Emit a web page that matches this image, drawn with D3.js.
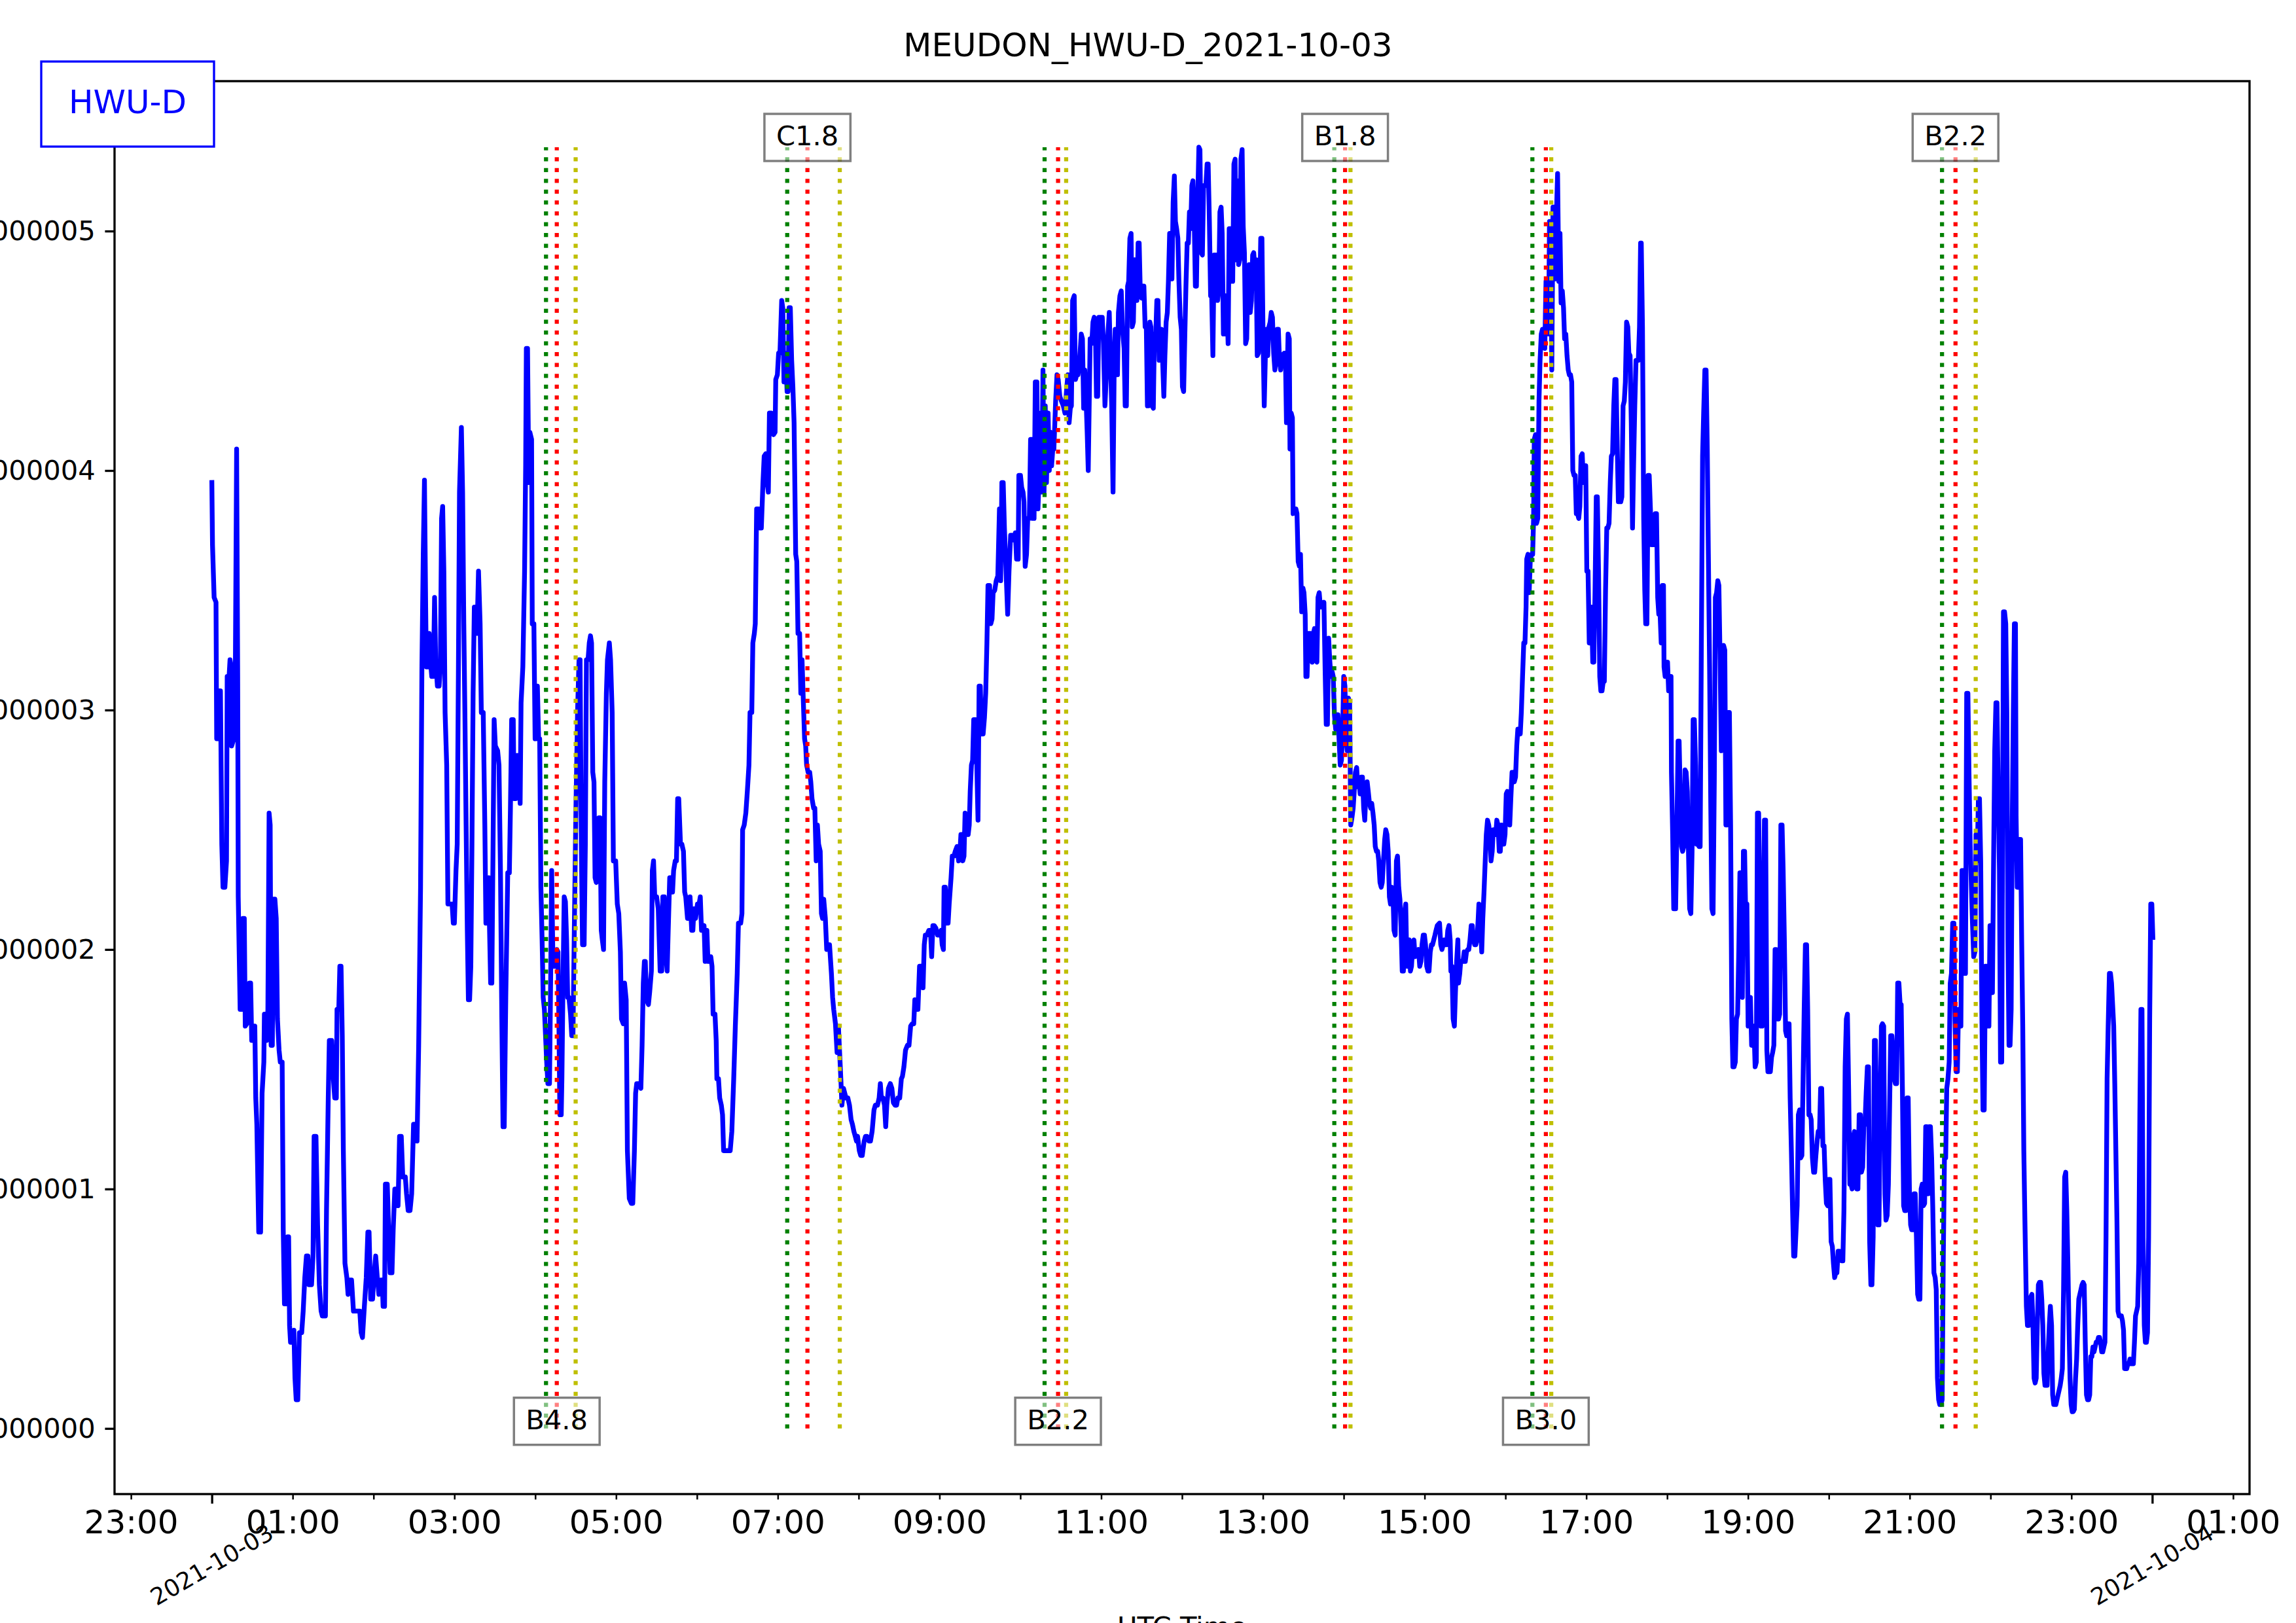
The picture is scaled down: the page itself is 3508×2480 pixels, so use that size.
<!DOCTYPE html>
<html><head><meta charset="utf-8">
<script src="https://cdn.jsdelivr.net/npm/d3@7"></script>
<style>
body{margin:0;background:#fff}
svg{display:block;font-family:"DejaVu Sans",sans-serif}
</style>
</head><body>
<svg id="c" width="3508" height="2480"></svg>
<script>
// ---------------- data ----------------
const chartTitle = "MEUDON_HWU-D_2021-10-03";
const legendLabel = "HWU-D";
const xAxisLabel = "UTC Time";
const dayStart = Date.UTC(2021, 9, 3);          // 2021-10-03 00:00 UTC
const xDomain = ["2021-10-02T22:47:48Z", "2021-10-04T01:12:12Z"];
const yDomain = [-0.274, 5.626];                // flux, 1e-6 W/m^2
const yTickValues = [0, 1, 2, 3, 4, 5];
const dateTickLabels = ["2021-10-03", "2021-10-04"];

const flareClass = ["B4.8", "C1.8", "B2.2", "B1.8", "B3.0", "B2.2"];
const flareStart = ["04:08", "07:07", "10:18", "13:53", "16:20", "21:24"];
const flarePeak  = ["04:16", "07:22", "10:28", "14:01", "16:30", "21:34"];
const flareEnd   = ["04:30", "07:46", "10:34", "14:05", "16:34", "21:49"];
const flareLabelSide = ["bottom", "top", "bottom", "top", "bottom", "top"];

// [minutes since 00:00 UTC, flux in 1e-6 W/m^2]
const fluxSeries = [
[0,3.96],[0.5,3.69],[1.7,3.47],[3.1,3.45],[3.6,2.88],[4.5,2.88],[5.0,3.08],[6.4,3.08],[7.4,2.44],[8.3,2.26],[9.7,2.26],[10.9,2.37],[11.4,3.14],[12.6,3.12],[13.5,3.21],[14.7,2.85],[15.8,2.87],[16.6,3.18],[17.5,3.21],[18.4,4.09],[19.2,3.14],[19.6,2.22],[21.0,1.75],[22.3,1.75],[23.0,2.13],[24.1,2.13],[24.8,1.68],[26.0,1.69],[26.9,1.75],[27.9,1.86],[28.8,1.86],[29.6,1.62],[30.8,1.68],[31.9,1.68],[32.6,1.38],[33.4,1.27],[34.8,0.82],[36.2,0.82],[37.3,1.40],[38.6,1.53],[39.0,1.73],[39.9,1.73],[40.7,1.62],[41.6,1.75],[42.5,2.57],[43.3,2.52],[44.0,1.60],[44.9,1.60],[45.9,2.21],[46.8,2.21],[47.8,2.13],[48.7,1.71],[49.9,1.58],[50.8,1.53],[52.2,1.53],[53.0,0.83],[53.9,0.52],[55.1,0.52],[56.2,0.80],[57.0,0.80],[57.7,0.43],[58.4,0.36],[59.6,0.36],[60.9,0.41],[61.7,0.21],[62.6,0.12],[63.8,0.12],[65.0,0.40],[66.7,0.40],[67.8,0.49],[69.0,0.63],[70.2,0.72],[71.3,0.72],[72.1,0.60],[74.0,0.60],[75.1,0.72],[75.9,1.22],[77.3,1.22],[78.5,0.85],[79.8,0.60],[81.1,0.49],[82.0,0.47],[84.3,0.47],[85.1,0.91],[86.4,1.38],[87.2,1.62],[89.0,1.62],[90.2,1.46],[91.2,1.38],[92.4,1.38],[92.9,1.75],[94.2,1.75],[95.0,1.93],[95.9,1.93],[96.8,1.64],[97.6,1.16],[98.8,0.69],[100.2,0.63],[101.1,0.56],[102.5,0.62],[103.7,0.62],[105.1,0.49],[106.3,0.49],[108.0,0.49],[109.8,0.49],[110.8,0.40],[111.8,0.38],[113.2,0.51],[114.6,0.63],[115.8,0.82],[116.7,0.82],[117.9,0.54],[119.3,0.54],[120.5,0.65],[121.6,0.72],[122.8,0.63],[124.0,0.56],[125.4,0.62],[126.4,0.62],[127.1,0.51],[128.2,0.51],[128.8,1.02],[130.2,1.02],[131.4,0.80],[132.3,0.65],[133.7,0.65],[134.6,0.83],[135.8,1.00],[137.2,1.00],[138.2,0.93],[139.3,1.22],[140.6,1.22],[141.7,1.05],[143.6,1.05],[144.5,0.98],[145.7,0.91],[147.1,0.91],[148.3,0.98],[149.7,1.27],[151.1,1.27],[152.3,1.20],[153.5,1.60],[154.9,2.26],[155.9,3.18],[156.9,3.65],[157.8,3.96],[158.7,3.43],[159.2,3.18],[160.4,3.18],[161.3,3.32],[162.2,3.21],[163.2,3.14],[164.4,3.14],[165.3,3.47],[166.1,3.21],[167.4,3.10],[168.7,3.10],[169.6,3.18],[170.5,3.80],[171.3,3.85],[172.2,3.58],[173.1,2.99],[174.3,2.77],[175.2,2.19],[176.5,2.19],[178.3,2.19],[179.2,2.11],[180.0,2.11],[181.2,2.33],[182.1,2.44],[183.0,3.18],[183.8,3.91],[185.2,4.18],[186.1,3.91],[187.0,3.36],[187.8,2.99],[188.7,2.52],[189.6,2.08],[190.4,1.79],[191.3,1.79],[192.2,1.93],[193.0,2.41],[193.9,3.07],[194.8,3.43],[196.0,3.43],[196.8,3.32],[197.9,3.58],[199.1,3.36],[200.0,2.99],[201.4,2.99],[202.6,2.52],[203.4,2.11],[204.5,2.11],[205.5,2.30],[206.0,2.11],[206.9,1.86],[207.8,1.86],[208.6,2.37],[209.5,2.96],[210.4,2.85],[212.1,2.83],[213.1,2.77],[214.2,2.33],[215.2,1.71],[216.1,1.26],[217.0,1.26],[218.2,1.82],[219.6,2.32],[220.8,2.32],[221.6,2.59],[222.5,2.96],[223.7,2.96],[224.3,2.63],[225.5,2.63],[226.3,2.81],[227.7,2.81],[228.8,2.61],[229.5,3.03],[230.8,3.18],[232.1,3.58],[232.9,4.02],[233.4,4.51],[234.3,4.51],[235.2,3.95],[236.0,4.16],[237.3,4.13],[237.8,3.36],[239.0,3.36],[239.9,2.88],[240.7,2.88],[241.6,3.10],[242.5,2.88],[243.3,2.88],[244.2,2.26],[245.1,2.04],[245.9,1.80],[246.8,1.75],[248.5,1.53],[249.4,1.44],[250.6,1.44],[251.5,1.90],[252.2,2.33],[253.2,1.93],[254.6,1.93],[256.0,2.00],[256.9,1.99],[257.6,1.68],[258.3,1.31],[259.3,1.31],
[259.8,1.46],[260.7,1.90],[261.5,2.22],[262.4,2.20],[263.3,2.04],[264.1,1.80],[265.0,1.80],[266.2,1.73],[267.1,1.64],[268.0,1.64],[269.0,2.08],[270.2,2.59],[271.4,2.99],[272.5,3.21],[273.3,3.21],[274.2,2.44],[275.1,2.02],[276.3,2.02],[277.2,2.44],[278.0,3.21],[279.2,3.21],[280.1,3.28],[281.0,3.31],[281.8,3.28],[282.7,2.74],[283.6,2.70],[284.4,2.30],[285.3,2.28],[286.2,2.41],[287.2,2.55],[288.1,2.55],[289.0,2.08],[289.8,2.04],[290.7,2.00],[291.6,2.70],[292.8,3.07],[293.6,3.21],[295.0,3.28],[295.9,3.21],[297.1,2.99],[298.0,2.37],[299.7,2.37],[300.9,2.19],[302.0,2.15],[303.2,1.99],[304.0,1.71],[305.3,1.69],[306.3,1.86],[307.5,1.79],[308.4,1.16],[309.8,0.96],[311.3,0.94],[312.4,0.94],[313.6,1.16],[314.5,1.40],[315.3,1.44],[317.1,1.44],[318.4,1.42],[319.3,1.60],[320.2,1.86],[321.0,1.95],[321.7,1.95],[322.6,1.79],[324.0,1.77],[324.9,1.82],[326.2,1.91],[326.9,2.33],[327.8,2.37],[328.7,2.22],[330.1,2.22],[331.3,2.17],[332.7,1.91],[333.9,1.91],[334.7,2.22],[335.8,2.22],[336.7,1.99],[337.9,1.91],[338.7,2.08],[339.8,2.30],[341.0,2.30],[341.9,2.24],[342.7,2.33],[343.9,2.37],[344.8,2.37],[345.7,2.63],[346.5,2.63],[347.8,2.44],[348.8,2.44],[350.0,2.41],[350.9,2.24],[351.7,2.22],[353.0,2.13],[354.0,2.13],[354.9,2.22],[356.1,2.08],[357.0,2.08],[357.8,2.17],[359.0,2.13],[360.4,2.19],[361.6,2.19],[362.5,2.22],[363.4,2.08],[364.4,2.08],[365.3,2.10],[366.1,1.95],[367.4,2.08],[368.2,1.95],[369.4,1.95],[370.3,1.97],[371.2,1.93],[372.0,1.73],[373.4,1.73],[374.3,1.62],[374.8,1.46],[376.0,1.46],[376.9,1.38],[378.1,1.35],[379.0,1.31],[379.8,1.16],[382.1,1.16],[384.7,1.16],[385.9,1.24],[387.3,1.46],[388.5,1.68],[389.9,1.90],[390.8,2.11],[392.5,2.11],[393.4,2.15],[393.9,2.50],[395.1,2.52],[396.3,2.57],[397.4,2.66],[398.6,2.77],[399.4,2.99],[400.7,2.99],[401.5,3.28],[402.6,3.32],[403.3,3.36],[404.3,3.84],[405.7,3.84],[406.7,3.76],[407.8,3.76],[409.0,3.95],[409.9,4.06],[411.1,4.07],[412.1,3.95],[413.0,3.91],[413.8,4.24],[415.1,4.24],[415.9,4.16],[416.8,4.15],[418.0,4.16],[418.5,4.38],[419.7,4.40],[420.6,4.49],[421.6,4.49],[422.9,4.71],[423.7,4.68],[424.6,4.37],[425.8,4.49],[426.9,4.33],[427.7,4.33],[428.4,4.68],[429.3,4.68],[430.3,4.46],[431.2,4.35],[432.1,4.20],[433.3,3.65],[434.1,3.62],[435.0,3.32],[436.2,3.32],[437.1,3.07],[438.0,3.21],[439.0,3.03],[439.9,2.88],[440.7,2.85],[441.4,2.77],[442.5,2.74],[443.7,2.74],[444.5,2.70],[445.4,2.63],[446.6,2.59],[447.5,2.59],[448.5,2.37],[449.4,2.52],[450.3,2.44],[451.5,2.41],[452.4,2.15],[453.2,2.13],[454.1,2.21],[455.3,2.13],[456.3,2.00],[457.2,2.02],[458.4,2.02],[459.8,1.90],[460.7,1.80],[461.5,1.75],[462.8,1.69],[464.0,1.57],[465.0,1.68],[465.9,1.57],[466.8,1.46],[467.6,1.35],[468.8,1.42],[470.6,1.38],[472.0,1.38],[473.2,1.35],[474.4,1.29],[475.4,1.27],[476.5,1.24],[477.5,1.22],[478.4,1.20],[479.2,1.22],[480.5,1.16],[481.5,1.14],[482.7,1.14],[484.1,1.20],[485.1,1.22],[486.2,1.22],[487.6,1.20],[488.8,1.20],[490.0,1.24],[491.4,1.33],[492.4,1.35],[494.0,1.35],[495.2,1.38],[496.1,1.44],[496.9,1.38],[498.0,1.38],[499.2,1.35],[500.1,1.26],[500.9,1.35],[502.1,1.42],[503.5,1.44],[504.7,1.42],[505.8,1.36],[507.0,1.35],[508.2,1.35],[509.1,1.38],[510.5,1.38],[511.7,1.46],[512.5,1.47],[513.6,1.51],[514.8,1.58],[516.2,1.60],[517.4,1.60],[518.6,1.68],[519.7,1.69],[520.9,1.69],[521.7,1.79],[523.0,1.75],[524.0,1.75],[525.2,1.93],[526.4,1.93],
[527.8,1.84],[528.7,2.02],[529.5,2.06],[530.7,2.06],[532.1,2.08],[533.3,2.08],[534.2,1.97],[535.1,2.10],[536.1,2.10],[537.3,2.09],[538.6,2.06],[539.9,2.06],[541.2,2.08],[542.0,2.02],[542.9,2.00],[543.4,2.26],[544.3,2.26],[545.5,2.11],[546.4,2.11],[547.2,2.19],[548.6,2.30],[549.5,2.39],[550.7,2.39],[551.7,2.41],[553.0,2.43],[554.2,2.37],[555.0,2.39],[555.9,2.48],[556.8,2.48],[557.3,2.37],[558.2,2.39],[559.0,2.57],[560.4,2.55],[561.3,2.48],[562.1,2.52],[562.8,2.66],[563.7,2.77],[564.6,2.79],[565.4,2.96],[566.8,2.96],[567.7,2.77],[568.6,2.54],[569.4,3.10],[570.3,3.10],[571.2,2.90],[572.4,2.90],[573.4,2.97],[574.3,3.07],[575.2,3.28],[576.0,3.52],[577.2,3.52],[578.1,3.36],[579.0,3.38],[579.8,3.49],[581.0,3.50],[582.1,3.54],[583.3,3.56],[584.5,3.84],[585.4,3.54],[586.3,3.95],[587.3,3.95],[588.2,3.76],[589.4,3.58],[590.6,3.40],[591.6,3.58],[592.8,3.73],[594.1,3.73],[595.1,3.71],[596.3,3.74],[597.2,3.63],[598.4,3.63],[598.9,3.98],[600.1,3.98],[601.0,3.93],[602.0,3.91],[602.7,3.87],[603.6,3.60],[604.6,3.65],[605.5,3.80],[606.7,3.80],[607.6,4.13],[608.5,4.13],[609.3,3.80],[610.2,3.80],[611.1,4.37],[612.3,4.37],[613.1,3.84],[614.0,3.98],[615.0,4.24],[615.9,3.91],[616.8,4.42],[617.6,3.91],[618.5,4.27],[619.4,3.95],[620.6,4.24],[621.5,4.00],[622.3,4.16],[623.2,4.02],[624.1,4.09],[624.9,4.09],[626.2,4.29],[627.2,4.40],[628.1,4.38],[629.3,4.31],[630.5,4.29],[631.9,4.27],[633.1,4.24],[634.5,4.35],[635.3,4.40],[636.2,4.20],[637.1,4.26],[637.9,4.27],[638.8,4.71],[640.0,4.73],[640.9,4.38],[641.9,4.40],[642.8,4.40],[644.0,4.46],[645.2,4.57],[646.1,4.55],[647.0,4.26],[647.8,4.42],[648.7,4.31],[649.6,4.16],[650.4,4.00],[651.3,4.35],[651.8,4.55],[653.0,4.53],[653.9,4.62],[654.8,4.64],[655.8,4.55],[656.5,4.31],[657.4,4.31],[658.2,4.64],[659.6,4.64],[660.8,4.64],[661.7,4.53],[662.8,4.27],[664.0,4.42],[664.8,4.55],[666.0,4.66],[666.9,4.46],[667.8,4.27],[668.8,3.91],[669.7,4.46],[670.4,4.59],[671.3,4.57],[672.1,4.40],[672.8,4.66],[673.9,4.73],[674.9,4.75],[675.8,4.59],[677.0,4.51],[677.8,4.27],[678.7,4.27],[679.6,4.77],[680.4,4.79],[681.3,4.97],[682.2,4.99],[683.0,4.60],[683.9,4.62],[684.8,4.88],[685.6,4.82],[686.5,4.71],[687.4,4.95],[688.2,4.95],[689.1,4.73],[690.0,4.72],[690.9,4.77],[691.7,4.77],[692.6,4.60],[693.5,4.60],[694.3,4.27],[695.2,4.27],[696.1,4.62],[696.9,4.60],[697.8,4.27],[698.7,4.26],[699.5,4.57],[700.4,4.55],[701.3,4.71],[702.1,4.71],[703.0,4.46],[703.9,4.59],[704.7,4.59],[705.6,4.46],[706.5,4.31],[707.3,4.48],[708.2,4.62],[709.1,4.66],[709.9,4.79],[710.8,4.99],[711.7,4.99],[712.5,4.80],[713.4,5.12],[714.3,5.23],[715.1,5.04],[716.0,5.01],[716.9,4.97],[717.7,4.79],[718.6,4.64],[719.5,4.59],[720.3,4.35],[721.2,4.33],[722.1,4.57],[722.9,4.77],[723.8,4.95],[724.7,4.95],[725.5,5.08],[726.4,5.01],[727.3,5.19],[728.1,5.21],[729.0,5.06],[729.9,4.77],[730.7,4.77],[731.6,5.12],[732.5,5.35],[733.3,5.34],[734.2,4.91],[735.1,4.90],[736.0,5.19],[736.8,5.19],[737.7,5.19],[738.6,5.28],[739.4,5.28],[740.3,5.04],[741.2,4.73],[742.0,4.73],[742.9,4.48],[743.8,4.90],[744.6,4.86],[745.5,4.90],[746.4,4.71],[747.2,4.75],[748.1,5.08],[749.0,5.10],[749.8,4.99],[750.7,4.57],[751.6,4.57],[752.4,4.73],[753.3,4.71],[754.2,4.53],[755.0,5.01],[755.9,5.01],[756.8,4.79],[757.6,4.79],[758.5,5.28],[759.4,5.30],[760.2,4.88],[761.1,5.21],[762.0,4.86],[762.8,4.88],[763.7,5.30],[764.6,5.34],[765.4,5.02],[766.3,4.91],[767.2,4.53],[768.0,4.55],[768.9,4.82],[769.8,4.86],[770.6,4.66],[771.5,4.71],[772.4,4.90],[773.2,4.91],[774.1,4.84],[775.0,4.88],[775.8,4.48],[776.7,4.49],[777.6,4.71],[778.4,4.97],[779.3,4.97],[780.2,4.53],[781.0,4.27],[781.9,4.49],[782.8,4.59],[783.6,4.48],[784.5,4.60],[785.4,4.62],[786.2,4.66],[787.1,4.64],[788.0,4.49],[788.9,4.42],[789.7,4.46],[790.6,4.59],[791.5,4.59],[792.3,4.46],[793.2,4.42],
[794.1,4.48],[795.8,4.49],[796.7,4.49],[797.5,4.20],[798.4,4.49],[798.7,4.57],[799.6,4.55],[800.1,4.09],[801.0,4.24],[801.9,4.22],[802.4,3.82],[803.6,3.84],[804.5,3.84],[805.3,3.82],[806.2,3.62],[807.1,3.60],[807.9,3.65],[808.8,3.41],[809.7,3.51],[810.5,3.49],[811.4,3.40],[811.9,3.14],[812.8,3.14],[813.7,3.32],[814.5,3.21],[815.4,3.32],[816.6,3.20],[817.5,3.32],[818.3,3.34],[819.2,3.21],[820.1,3.20],[820.9,3.47],[821.8,3.49],[822.7,3.43],[823.5,3.45],[824.4,3.43],[825.3,3.45],[826.2,3.16],[827.0,2.94],[827.9,2.94],[828.8,3.30],[829.6,3.21],[830.5,3.14],[831.4,3.16],[832.2,3.14],[833.1,2.98],[834.0,2.92],[834.8,2.98],[835.7,2.98],[836.6,2.87],[837.4,2.77],[838.3,2.79],[839.2,2.92],[840.0,3.14],[840.9,3.10],[841.8,2.87],[842.6,2.83],[843.5,3.05],[844.4,3.03],[845.2,2.52],[846.1,2.55],[847.0,2.59],[847.8,2.66],[848.7,2.74],[849.6,2.76],[850.4,2.68],[851.3,2.70],[852.2,2.65],[853.0,2.72],[853.9,2.72],[854.8,2.59],[855.6,2.54],[856.5,2.66],[857.4,2.70],[858.2,2.66],[859.1,2.61],[860.0,2.59],[860.8,2.61],[861.7,2.57],[862.6,2.52],[863.4,2.43],[864.3,2.41],[865.2,2.41],[866.0,2.37],[866.9,2.28],[867.8,2.26],[868.6,2.28],[869.5,2.37],[870.4,2.46],[871.2,2.50],[872.1,2.48],[873.0,2.41],[873.9,2.22],[874.7,2.19],[875.6,2.26],[876.5,2.24],[877.3,2.08],[878.2,2.06],[879.1,2.37],[879.9,2.39],[880.8,2.26],[881.7,2.21],[882.5,2.10],[883.4,1.91],[884.3,1.91],[885.1,2.02],[885.5,2.17],[886.0,2.19],[886.9,1.93],[887.7,2.04],[888.6,2.04],[889.5,1.91],[890.3,1.93],[891.2,2.02],[892.1,2.04],[892.9,1.97],[893.8,1.99],[894.7,1.99],[895.5,2.00],[896.4,1.93],[897.3,1.95],[898.1,2.02],[899.0,2.06],[899.9,2.06],[900.7,2.02],[901.6,1.93],[902.5,1.91],[903.3,1.91],[904.2,1.99],[905.1,2.02],[905.9,2.02],[906.8,2.04],[907.7,2.06],[908.5,2.08],[909.4,2.10],[911.1,2.11],[912.0,2.02],[912.9,2.00],[913.8,2.02],[914.6,2.04],[915.5,2.02],[916.4,2.02],[917.2,2.08],[918.1,2.10],[919.0,2.04],[919.5,1.91],[920.3,1.93],[921.2,1.71],[922.1,1.68],[922.9,1.82],[923.8,1.95],[924.7,2.04],[925.2,1.86],[926.1,1.90],[926.8,1.95],[927.6,1.95],[928.5,1.95],[929.4,1.99],[930.2,1.95],[931.1,1.99],[932.0,2.00],[932.8,2.00],[933.7,2.04],[934.6,2.10],[935.4,2.10],[936.3,2.04],[937.2,2.02],[938.0,2.02],[938.9,2.04],[939.8,2.13],[940.3,2.19],[941.0,2.17],[941.7,2.08],[942.4,1.99],[943.2,2.13],[944.1,2.24],[945.0,2.37],[945.8,2.48],[946.7,2.54],[947.6,2.52],[948.4,2.48],[949.3,2.37],[950.2,2.41],[951.0,2.50],[951.9,2.50],[952.8,2.48],[953.6,2.54],[954.5,2.52],[955.4,2.41],[956.2,2.41],[957.1,2.52],[958.0,2.44],[958.8,2.44],[959.7,2.48],[960.6,2.65],[961.4,2.66],[962.3,2.57],[963.2,2.52],[964.0,2.63],[964.9,2.74],[965.8,2.74],[966.6,2.70],[967.5,2.72],[968.4,2.85],[969.2,2.92],[970.1,2.92],[971.0,2.90],[971.8,2.99],[972.7,3.14],[973.6,3.28],[974.5,3.28],[975.3,3.43],[975.8,3.63],[976.7,3.65],[977.6,3.49],[978.4,3.62],[979.3,3.65],[980.2,3.65],[980.9,3.80],[981.4,4.13],[982.3,4.15],[983.1,3.78],[984.0,3.80],[984.9,4.29],[985.7,4.46],[986.6,4.57],[987.5,4.59],[988.3,4.59],[989.2,4.51],[990.1,4.79],[990.9,4.79],[991.5,4.64],[992.0,4.57],[992.7,5.04],[993.5,5.04],[994.4,4.42],[995.3,5.10],[996.1,5.10],[997.0,4.80],[997.9,5.08],[998.7,5.24],[999.6,4.79],[1000.5,4.99],[1001.3,4.70],[1002.2,4.75],[1003.1,4.68],[1003.9,4.55],[1004.8,4.57],[1005.7,4.48],[1006.6,4.42],[1007.4,4.40],[1008.3,4.40],[1009.2,4.37],[1010.0,4.00],[1010.9,3.98],[1011.8,3.98],[1012.6,3.82],[1013.5,3.82],[1014.4,3.80],[1015.2,3.85],[1016.1,4.06],[1017.0,4.07],[1017.8,3.95],[1018.7,4.02],[1019.6,4.02],[1020.4,3.58],[1021.3,3.58],[1022.2,3.28],[1023.0,3.28],[1023.9,3.43],[1024.8,3.20],[1025.6,3.20],[1026.5,3.50],[1027.4,3.89],[1028.2,3.89],[1029.1,3.58],[1030.0,3.14],[1030.8,3.08],[1031.7,3.08],[1032.6,3.12],[1033.4,3.12],[1034.3,3.50],[1035.2,3.76],[1036.0,3.76],[1036.9,3.78],[1037.8,3.95],[1038.6,4.06],[1039.5,4.07],[1040.4,4.27],[1041.2,4.38],[1042.1,4.38],[1043.0,4.09],[1043.8,3.87],[1044.7,3.87],[1045.6,3.87],[1046.4,3.89],[1047.3,4.27],[1048.2,4.29],[1049.0,4.37],[1049.9,4.62],[1050.8,4.60],[1051.6,4.49],[1052.5,4.48],[1053.4,4.20],[1054.3,3.76],[1055.1,4.02],[1056.0,4.27],[1056.9,4.46],[1057.7,4.46],[1058.6,4.46],[1059.5,4.60],[1060.3,4.95],
[1060.8,4.95],[1061.7,4.60],[1062.6,3.80],[1063.4,3.50],[1064.1,3.36],[1065.0,3.36],[1065.9,3.98],[1066.7,3.98],[1067.6,3.84],[1068.5,3.69],[1069.3,3.69],[1070.4,3.69],[1071.2,3.82],[1072.1,3.82],[1073.0,3.47],[1073.8,3.40],[1074.7,3.41],[1075.6,3.28],[1076.4,3.52],[1077.3,3.52],[1077.7,3.18],[1078.5,3.14],[1079.4,3.16],[1080.3,3.20],[1081.1,3.08],[1082.0,3.14],[1082.9,3.14],[1083.2,2.74],[1084.1,2.48],[1084.9,2.17],[1086.3,2.17],[1087.2,2.48],[1088.1,2.87],[1088.9,2.87],[1089.8,2.63],[1090.7,2.43],[1091.5,2.41],[1092.4,2.43],[1093.3,2.75],[1094.1,2.74],[1095.0,2.66],[1095.9,2.39],[1096.7,2.17],[1097.6,2.15],[1098.5,2.41],[1099.3,2.96],[1100.2,2.96],[1101.1,2.77],[1101.9,2.44],[1102.8,2.44],[1103.7,2.43],[1104.5,2.43],[1105.4,3.28],[1106.3,4.06],[1107.1,4.24],[1108.0,4.42],[1108.9,4.42],[1109.8,4.09],[1110.6,3.65],[1111.5,3.18],[1112.4,2.59],[1113.2,2.17],[1114.1,2.15],[1115.0,2.70],[1115.8,3.47],[1116.7,3.49],[1117.6,3.54],[1118.4,3.52],[1119.3,3.21],[1120.2,2.83],[1121.0,2.85],[1121.9,3.27],[1122.8,3.25],[1123.6,2.52],[1124.5,2.52],[1125.4,2.99],[1126.2,2.99],[1127.1,2.52],[1128.0,1.71],[1128.8,1.51],[1129.7,1.51],[1130.6,1.53],[1131.4,1.71],[1132.3,1.73],[1133.2,2.00],[1134.0,2.32],[1134.9,2.32],[1135.8,1.80],[1136.6,2.41],[1137.5,2.41],[1138.4,2.11],[1139.2,2.19],[1140.1,1.68],[1141.0,1.68],[1141.8,1.80],[1142.7,1.60],[1143.6,1.68],[1144.4,1.68],[1145.3,1.51],[1146.2,1.53],[1147.0,2.57],[1147.9,2.57],[1148.8,2.13],[1149.6,1.68],[1150.5,1.68],[1151.4,2.13],[1152.2,2.54],[1153.1,2.54],[1154.0,1.58],[1154.8,1.49],[1155.7,1.49],[1156.6,1.49],[1157.5,1.55],[1158.3,1.57],[1159.2,1.60],[1160.1,2.00],[1160.9,2.00],[1161.8,1.71],[1162.7,1.71],[1163.5,1.73],[1164.4,2.52],[1165.3,2.52],[1166.1,2.33],[1167.0,2.04],[1167.9,1.66],[1168.7,1.64],[1169.6,1.69],[1170.5,1.69],[1171.3,1.38],[1172.2,1.16],[1173.1,0.91],[1173.9,0.72],[1174.8,0.72],[1175.7,0.83],[1176.5,0.93],[1177.4,1.31],[1178.3,1.33],[1179.1,1.13],[1180.0,1.14],[1180.9,1.46],[1181.7,1.75],[1182.6,2.02],[1183.5,2.02],[1184.3,1.75],[1185.2,1.31],[1186.1,1.31],[1186.9,1.29],[1187.8,1.13],[1188.7,1.07],[1189.5,1.07],[1190.4,1.14],[1191.3,1.20],[1192.1,1.24],[1193.0,1.22],[1193.9,1.42],[1194.7,1.42],[1195.6,1.18],[1196.5,1.18],[1197.3,1.04],[1198.2,0.94],[1199.1,0.93],[1199.9,1.04],[1200.8,1.04],[1201.7,0.78],[1202.6,0.76],[1203.4,0.69],[1204.3,0.63],[1205.2,0.65],[1206.0,0.65],[1206.9,0.74],[1207.8,0.74],[1208.6,0.72],[1209.5,0.70],[1210.4,0.70],[1211.2,0.91],[1212.1,1.51],[1213.0,1.71],[1213.8,1.73],[1214.7,1.42],[1215.6,1.02],[1216.4,1.02],[1217.3,1.00],[1218.2,1.22],[1219.0,1.24],[1219.9,1.02],[1220.8,1.00],[1221.6,1.00],[1222.5,1.31],[1223.4,1.31],[1224.2,1.07],[1225.1,1.09],[1226.0,1.27],[1226.8,1.27],[1227.7,1.40],[1228.6,1.51],[1229.4,1.51],[1230.3,0.78],[1231.2,0.60],[1232.0,0.60],[1232.9,0.80],[1233.8,1.62],[1234.6,1.62],[1235.5,1.29],[1236.4,0.85],[1237.2,0.85],[1238.1,1.31],[1239.0,1.68],[1239.8,1.69],[1240.7,1.68],[1241.6,0.98],[1242.4,0.87],[1243.3,0.89],[1244.2,1.02],[1245.0,1.31],[1245.9,1.64],[1246.8,1.64],[1247.7,1.57],[1248.5,1.46],[1249.4,1.44],[1250.3,1.44],[1251.1,1.86],[1252.0,1.86],[1252.9,1.77],[1253.7,1.77],[1254.6,1.42],[1255.5,0.93],[1256.3,0.91],[1257.2,0.91],[1258.1,1.38],[1258.9,1.38],[1259.8,1.00],[1260.7,0.85],[1261.5,0.83],[1262.4,0.83],[1263.3,0.98],[1264.1,0.98],[1265.0,0.80],[1265.9,0.56],[1266.7,0.54],[1267.6,0.54],[1268.5,1.00],[1269.3,1.02],[1270.2,0.93],[1271.1,0.94],[1271.9,1.26],[1272.8,1.26],[1273.7,0.98],[1274.5,1.26],[1275.4,1.26],[1276.3,1.13],[1277.1,0.93],[1278.0,0.65],[1278.9,0.63],[1279.7,0.58],[1280.6,0.21],[1281.5,0.12],[1282.3,0.10],[1283.2,0.10],[1284.1,0.12],[1284.9,0.69],[1285.8,1.13],[1286.7,1.13],[1287.5,1.42],[1288.4,1.46],[1289.3,1.53],[1290.1,1.86],[1291.0,1.90],[1291.9,2.11],[1292.8,2.11],[1293.6,1.71],[1294.5,1.49],[1295.4,1.49],[1296.2,1.75],[1297.1,1.75],[1298.0,1.68],[1298.8,2.33],[1299.7,2.33],[1300.6,1.90],[1301.4,1.90],[1302.3,3.07],[1303.2,3.07],[1304.0,2.74],[1304.9,2.44],[1305.8,2.26],[1306.6,2.11],[1307.5,1.97],[1308.4,1.99],[1309.2,2.48],[1310.1,2.37],[1311.0,2.63],[1311.8,2.63],[1312.7,2.37],[1313.6,1.71],[1314.4,1.33],[1315.3,1.33],[1316.2,1.93],[1317.0,1.93],[1317.9,1.68],[1318.8,1.68],[1319.6,2.10],[1320.5,2.10],[1321.4,1.82],[1322.2,2.33],[1323.1,2.83],[1324.0,3.03],[1324.8,3.03],[1325.7,2.66],[1326.6,2.33],[1327.4,1.53],[1328.3,1.53],
[1328.8,2.30],[1329.6,3.41],[1330.4,3.41],[1331.3,3.36],[1332.1,2.99],[1332.9,2.04],[1333.7,1.60],[1334.5,1.60],[1335.3,1.75],[1336.1,2.52],[1336.9,2.99],[1337.7,3.36],[1338.5,3.36],[1339.0,2.55],[1339.8,2.26],[1340.6,2.26],[1341.5,2.46],[1342.3,2.46],[1343.1,2.04],[1343.9,1.68],[1344.7,1.16],[1345.5,0.87],[1346.6,0.51],[1347.4,0.43],[1348.3,0.43],[1349.1,0.54],[1350.7,0.56],[1351.5,0.43],[1352.3,0.21],[1353.1,0.19],[1353.9,0.21],[1354.7,0.43],[1355.5,0.60],[1356.3,0.61],[1357.2,0.61],[1358.0,0.54],[1358.8,0.43],[1359.6,0.23],[1360.4,0.18],[1361.2,0.18],[1362.0,0.18],[1362.8,0.32],[1363.6,0.43],[1364.4,0.51],[1365.3,0.43],[1366.1,0.14],[1366.9,0.10],[1367.7,0.10],[1368.5,0.10],[1369.3,0.12],[1370.1,0.14],[1370.9,0.16],[1371.7,0.18],[1372.5,0.21],[1373.3,0.25],[1374.2,0.58],[1375.0,1.05],[1375.8,1.07],[1376.6,0.91],[1377.4,0.69],[1378.2,0.43],[1379.0,0.21],[1379.8,0.10],[1380.6,0.07],[1381.4,0.07],[1382.2,0.08],[1383.1,0.21],[1383.9,0.29],[1384.7,0.43],[1385.5,0.54],[1386.3,0.56],[1387.1,0.58],[1387.9,0.60],[1388.7,0.61],[1389.5,0.60],[1390.3,0.36],[1391.2,0.14],[1392.0,0.12],[1392.8,0.12],[1393.6,0.14],[1394.4,0.30],[1395.2,0.30],[1396.0,0.34],[1396.8,0.32],[1397.6,0.34],[1398.4,0.36],[1399.2,0.36],[1400.1,0.38],[1400.9,0.38],[1401.7,0.36],[1402.5,0.32],[1403.3,0.32],[1404.1,0.34],[1404.9,0.36],[1405.7,0.80],[1406.5,1.46],[1407.3,1.68],[1408.2,1.90],[1409.0,1.90],[1409.8,1.86],[1410.6,1.77],[1411.4,1.68],[1412.2,1.44],[1413.0,1.16],[1413.8,0.87],[1414.6,0.49],[1415.4,0.47],[1416.2,0.47],[1417.1,0.47],[1417.9,0.45],[1418.7,0.41],[1419.5,0.25],[1420.3,0.25],[1421.1,0.25],[1421.9,0.27],[1422.7,0.27],[1423.5,0.29],[1424.3,0.27],[1425.1,0.27],[1426.0,0.27],[1426.8,0.36],[1427.6,0.47],[1428.4,0.49],[1429.2,0.51],[1430.0,0.69],[1430.8,1.31],[1431.6,1.75],[1432.4,1.75],[1433.2,0.80],[1434.1,0.43],[1434.9,0.36],[1435.7,0.36],[1436.5,0.40],[1437.3,0.80],[1438.1,1.71],[1438.9,2.19],[1439.7,2.19],[1440.5,2.04]
];

// ---------------- drawing ----------------
const svg = d3.select("#c");
const X0 = 175, X1 = 3437, Y0 = 124, Y1 = 2283;
const toDate = m => new Date(dayStart + m * 60000);
const hm = s => { const [h, m] = s.split(":").map(Number); return h * 60 + m; };

const x = d3.scaleUtc().domain(xDomain.map(s => new Date(s))).range([X0, X1]);
const y = d3.scaleLinear().domain(yDomain).range([Y1, Y0]);

svg.append("rect").attr("width", 3508).attr("height", 2480).attr("fill", "#fff");

svg.append("defs").append("clipPath").attr("id", "clip")
  .append("rect").attr("x", X0).attr("y", Y0).attr("width", X1 - X0).attr("height", Y1 - Y0);
const plot = svg.append("g").attr("clip-path", "url(#clip)");

plot.append("path").datum(fluxSeries)
  .attr("fill", "none").attr("stroke", "#0000ff").attr("stroke-width", 7.3)
  .attr("stroke-linejoin", "round")
  .attr("d", d3.line().x(d => x(toDate(d[0]))).y(d => y(d[1])));

const fmax = d3.max(fluxSeries, d => d[1]);
flareClass.forEach((c, i) => {
  [[flareStart[i], "#008000"], [flarePeak[i], "#ff0000"], [flareEnd[i], "#bfbf00"]].forEach(([t, col]) => {
    const xx = x(toDate(hm(t)));
    plot.append("line").attr("x1", xx).attr("x2", xx).attr("y1", y(0)).attr("y2", y(fmax))
      .attr("stroke", col).attr("stroke-width", 6.25).attr("stroke-dasharray", "6.25,10.3");
  });
});

// frame
svg.append("rect").attr("x", X0).attr("y", Y0).attr("width", X1 - X0).attr("height", Y1 - Y0)
  .attr("fill", "none").attr("stroke", "#000").attr("stroke-width", 3.33);

// x axis
const xAxis = d3.axisBottom(x).ticks(d3.utcHour.every(1)).tickSize(8.3).tickPadding(15.7)
  .tickFormat(d => d.getUTCHours() % 2 === 1 ? d3.utcFormat("%H:%M")(d) : "");
const gx = svg.append("g").attr("transform", `translate(0,${Y1})`).call(xAxis);
gx.select(".domain").remove();
gx.selectAll(".tick line").attr("stroke", "#000").attr("stroke-width", 2.5);
gx.selectAll(".tick text").attr("font-size", 50).attr("fill", "#000").attr("font-family", "DejaVu Sans");
gx.selectAll(".tick").filter(d => d.getUTCHours() === 0 && d.getUTCMinutes() === 0)
  .select("line").attr("y2", 14.6).attr("stroke-width", 3.33);

dateTickLabels.forEach((lab, i) => {
  const d = toDate(i * 1440);
  svg.append("text").attr("transform", `translate(${x(d)},2391) rotate(-30)`)
    .attr("text-anchor", "middle").attr("dominant-baseline", "central")
    .attr("font-size", 36).attr("fill", "#000").text(lab);
});

// y axis
const yAxis = d3.axisLeft(y).tickValues(yTickValues).tickSize(14.6).tickPadding(14.6)
  .tickFormat(v => d3.format(".6f")(v * 1e-6));
const gy = svg.append("g").attr("transform", `translate(${X0},0)`).call(yAxis);
gy.select(".domain").remove();
gy.selectAll(".tick line").attr("stroke", "#000").attr("stroke-width", 3.33);
gy.selectAll(".tick text").attr("font-size", 41.7).attr("fill", "#000").attr("font-family", "DejaVu Sans");

// flare class labels
flareClass.forEach((c, i) => {
  const cx = x(toDate(hm(flarePeak[i])));
  const cy = flareLabelSide[i] === "top" ? y(fmax) - 15 : y(0) - 11;
  const g = svg.append("g");
  const r = g.append("rect");
  const t = g.append("text").attr("x", cx).attr("y", cy + 12).attr("text-anchor", "middle")
    .attr("font-size", 41.7).attr("fill", "#000").text(c);
  const w = t.node().getComputedTextLength() + 36;
  r.attr("x", cx - w / 2).attr("y", cy - 36).attr("width", w).attr("height", 72)
    .attr("fill", "#fff").attr("fill-opacity", 0.5)
    .attr("stroke", "#000").attr("stroke-opacity", 0.5).attr("stroke-width", 3.5);
});

// legend box
const lg = svg.append("g");
lg.append("rect").attr("x", 63).attr("y", 94).attr("width", 264).attr("height", 130)
  .attr("fill", "#fff").attr("stroke", "#0000ff").attr("stroke-width", 3.33);
lg.append("text").attr("x", 195).attr("y", 173).attr("text-anchor", "middle")
  .attr("font-size", 50).attr("fill", "#0000ff").text(legendLabel);

// title and axis label
svg.append("text").attr("x", 1754).attr("y", 86).attr("text-anchor", "middle")
  .attr("font-size", 50).attr("fill", "#000").text(chartTitle);
svg.append("text").attr("x", (X0 + X1) / 2).attr("y", 2500).attr("text-anchor", "middle")
  .attr("font-size", 41.7).attr("fill", "#000").text(xAxisLabel);
</script>
</body></html>
